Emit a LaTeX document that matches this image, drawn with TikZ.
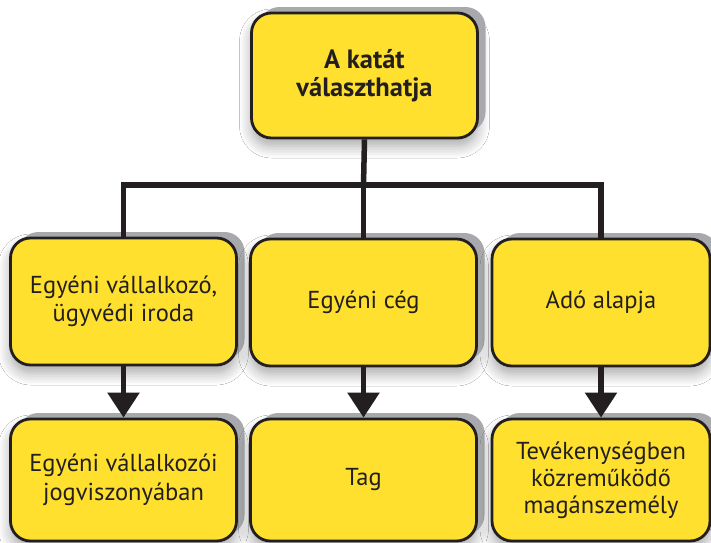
\documentclass[tikz,border=0pt]{standalone}
\usepackage{fontspec}
\setmainfont{PT Sans}
\usetikzlibrary{arrows.meta,shadows,shadows.blur}
\definecolor{boxyellow}{HTML}{FFE02E}
\definecolor{ink}{HTML}{231F20}
\definecolor{shadowgray}{HTML}{A7A9AC}
\tikzset{
  box/.style={draw=ink, line width=2.8pt, fill=boxyellow, rounded corners=20pt,
    minimum width=226pt, minimum height=125pt, align=center, text=ink,
    font=\fontsize{24.5}{28.5}\selectfont, inner sep=0pt,
    blur shadow={shadow xshift=0pt, shadow yshift=-8pt, shadow opacity=35, shadow blur radius=12pt, shadow blur steps=8},
    copy shadow={shadow xshift=8pt, shadow yshift=6pt, fill=shadowgray, draw=none, opacity=1}},
  conn/.style={draw=ink, line width=5.5pt},
  arr/.style={conn, -{Triangle[width=31pt,length=25pt]}}
}
\begin{document}
\begin{tikzpicture}[x=1pt,y=-1pt]
\useasboundingbox[fill=white] (0,0) rectangle (711,542);
\coordinate (j) at (363.5,185);
\node[box, minimum height=125pt, font=\fontsize{26.5}{27.5}\selectfont\bfseries] (top) at (364.5,75.5) {A katát\\választhatja};
\node[box, minimum height=127pt] (m1) at (123.5,301.5) {Egyéni vállalkozó,\\ügyvédi iroda};
\node[box, minimum height=127pt] (m2) at (363.5,302.5) {Egyéni cég};
\node[box, minimum height=127pt, minimum width=218pt] (m3) at (601,302.5) {Adó alapja};
\node[box, minimum height=122pt] (b1) at (123.5,480) {Egyéni vállalkozói\\jogviszonyában};
\node[box, minimum height=122pt] (b2) at (363.5,480) {Tag};
\node[box, minimum height=122pt, minimum width=218pt, font=\fontsize{24.5}{27}\selectfont] (b3) at (601,480) {Tevékenységben\\közreműködő\\magánszemély};
\draw[conn] (top.south) -- (j);
\draw[conn] (m1.north) |- (j) -| (m3.north);
\draw[conn] (j) -- (m2.north);
\draw[arr] (m1.south) -- (b1.north);
\draw[arr] (m2.south) -- (b2.north);
\draw[arr] (m3.south) -- (b3.north);
\end{tikzpicture}
\end{document}
